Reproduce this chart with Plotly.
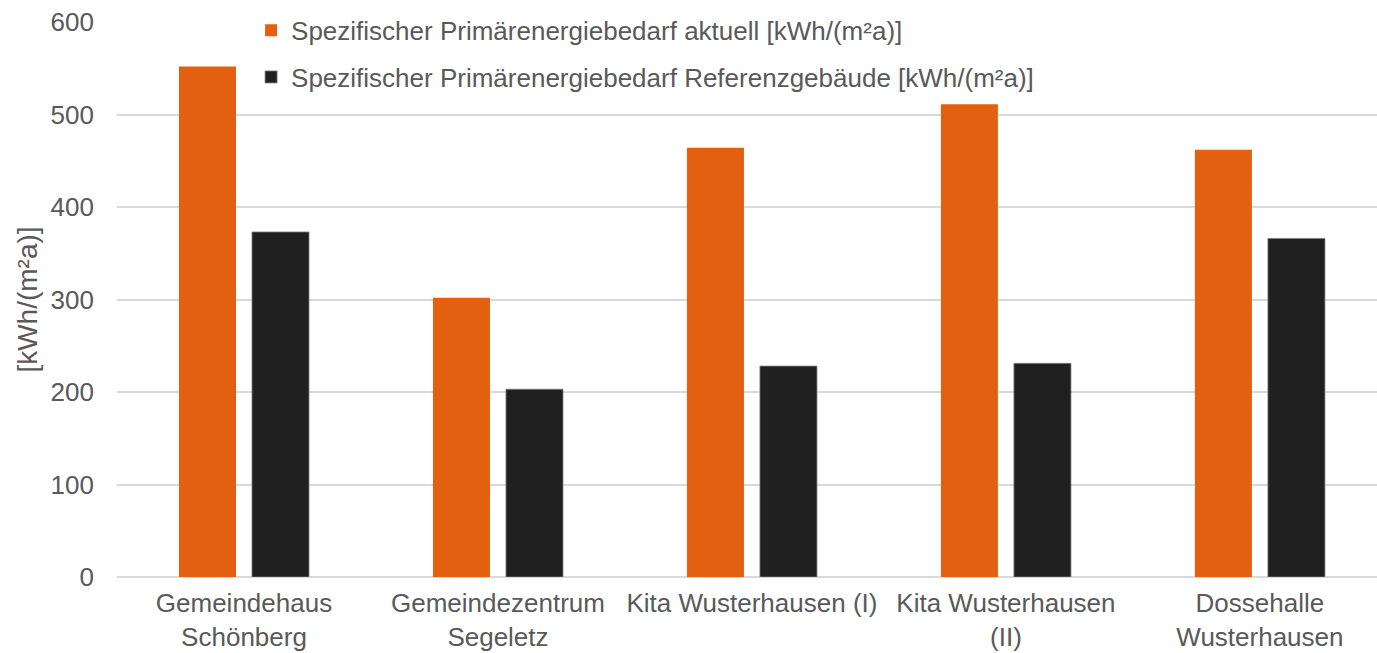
import plotly.graph_objects as go

categories = ["Gemeindehaus<br>Schönberg", "Gemeindezentrum<br>Segeletz", "Kita Wusterhausen (I)",
              "Kita Wusterhausen<br>(II)", "Dossehalle<br>Wusterhausen"]
aktuell = [552, 302, 464, 511, 462]
referenz = [373, 203, 228, 231, 366]
series_names = ["Spezifischer Primärenergiebedarf aktuell [kWh/(m²a)]",
                "Spezifischer Primärenergiebedarf Referenzgebäude [kWh/(m²a)]"]
y_ticks = [0, 100, 200, 300, 400, 500, 600]

FONT = "Liberation Sans, Arial, sans-serif"
GRAY = "#595959"
FS = 26

fig = go.Figure()
fig.add_trace(go.Bar(x=categories, y=aktuell, name=series_names[0], legendgroup="a",
                     marker=dict(color="#E2600F", line=dict(width=0))))
fig.add_trace(go.Bar(x=categories, y=referenz, name=series_names[1], legendgroup="b",
                     marker=dict(color="#202020", line=dict(color="#7f7f7f", width=0.8))))

fig.update_layout(
    width=1377, height=653,
    margin=dict(l=117, r=0, t=22, b=76, autoexpand=False),
    paper_bgcolor="white", plot_bgcolor="white",
    barmode="group", bargap=0.425, bargroupgap=0.219,
    font=dict(family=FONT, size=FS, color=GRAY),
    legend=dict(x=0.1064, y=1.0275, xanchor="left", yanchor="top",
                bgcolor="rgba(0,0,0,0)", tracegroupgap=10,
                font=dict(size=FS, color=GRAY), itemwidth=30),
    xaxis=dict(range=[-0.5, 4.461], showgrid=False, showline=False, ticks="",
               automargin=False, ticklabelstandoff=8,
               tickfont=dict(size=FS, color=GRAY)),
    yaxis=dict(range=[0, 600], tickvals=y_ticks, showgrid=True, gridcolor="#d9d9d9",
               gridwidth=1.5, zeroline=True, zerolinecolor="#d9d9d9", zerolinewidth=1.5,
               ticks="", automargin=False, ticklabelstandoff=22,
               tickfont=dict(size=FS, color=GRAY),
               title=dict(text="[kWh/(m²a)]", font=dict(size=28, color=GRAY), standoff=4)),
)

fig.write_html("out.html", config={"displayModeBar": False},
               post_script="document.body.style.margin='0';")
